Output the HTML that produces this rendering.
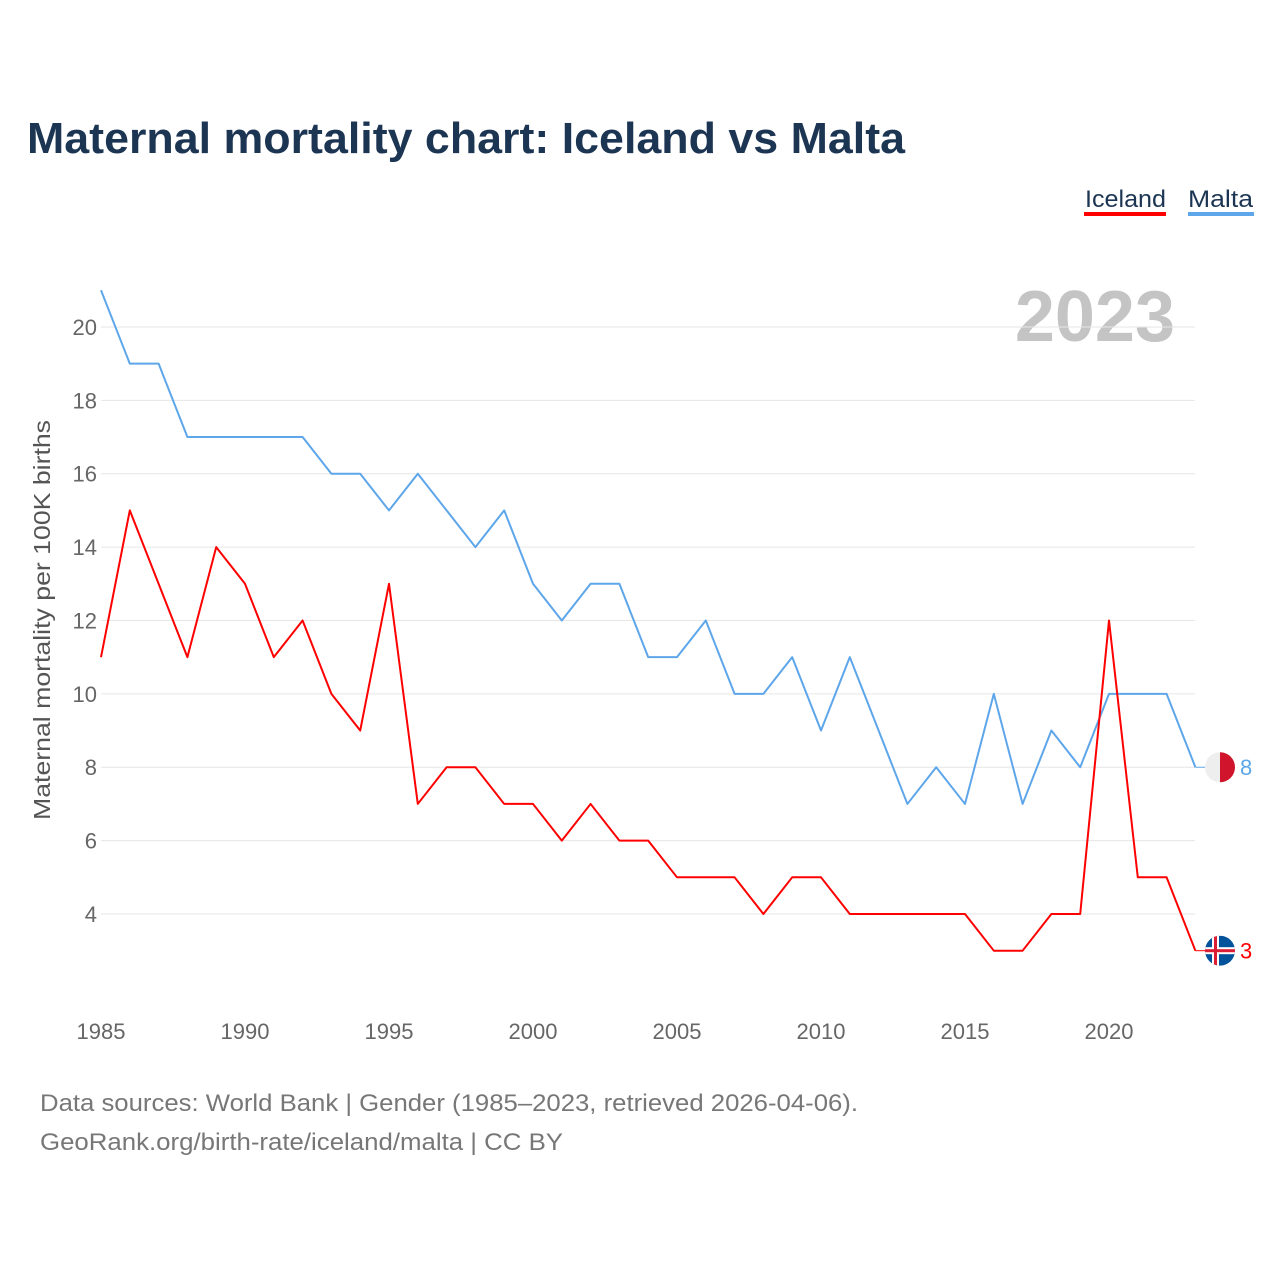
<!DOCTYPE html>
<html><head><meta charset="utf-8"><style>
body{margin:0;background:#fff;font-family:"Liberation Sans",sans-serif;}
svg{display:block}
</style></head><body>
<svg width="1280" height="1280" viewBox="0 0 1280 1280">
<text x="27" y="153" font-size="44" font-weight="bold" fill="#1c3553" textLength="878" lengthAdjust="spacingAndGlyphs">Maternal mortality chart: Iceland vs Malta</text>
<g><text x="1085" y="207" font-size="24" fill="#1c3553" textLength="81" lengthAdjust="spacingAndGlyphs">Iceland</text><rect x="1084" y="212" width="82" height="4" fill="#ff0000"/></g>
<g><text x="1188" y="207" font-size="24" fill="#1c3553" textLength="65" lengthAdjust="spacingAndGlyphs">Malta</text><rect x="1188" y="212" width="66" height="4" fill="#5ea6ea"/></g>
<text x="1175" y="341" font-size="72" font-weight="bold" fill="#c4c4c4" text-anchor="end">2023</text>
<text transform="translate(50,620) rotate(-90)" font-size="23" fill="#555" text-anchor="middle" textLength="400" lengthAdjust="spacingAndGlyphs">Maternal mortality per 100K births</text>
<g id="grid"></g><g id="yt"></g><g id="xt"></g><g id="lines"></g>
<text x="40" y="1111" font-size="24" fill="#777" textLength="818" lengthAdjust="spacingAndGlyphs">Data sources: World Bank | Gender (1985–2023, retrieved 2026-04-06).</text>
<text x="40" y="1150" font-size="24" fill="#777" textLength="523" lengthAdjust="spacingAndGlyphs">GeoRank.org/birth-rate/iceland/malta | CC BY</text>
</svg>
<script>
const years=[];for(let y=1985;y<=2023;y++)years.push(y);
const iceland=[11,15,13,11,14,13,11,12,10,9,13,7,8,8,7,7,6,7,6,6,5,5,5,4,5,5,4,4,4,4,4,3,3,4,4,12,5,5,3];
const malta=[21,19,19,17,17,17,17,17,16,16,15,16,15,14,15,13,12,13,13,11,11,12,10,10,11,9,11,9,7,8,7,10,7,9,8,10,10,10,8];
const yTicks=[4,6,8,10,12,14,16,18,20];
const xTicks=[1985,1990,1995,2000,2005,2010,2015,2020];
const X=y=>101+(y-1985)*28.8, Y=v=>914-(v-4)*36.69;
const NS="http://www.w3.org/2000/svg";
function mk(t,a,p){const e=document.createElementNS(NS,t);for(const k in a)e.setAttribute(k,a[k]);document.getElementById(p).appendChild(e);return e;}
yTicks.forEach(v=>{
 const l=mk('line',{x1:101,x2:1195,y1:Y(v),y2:Y(v),stroke:'#e6e6e6','stroke-width':1},'grid');
 
 
 const t=mk('text',{x:97,y:Y(v)+8,'font-size':22,fill:'#666','text-anchor':'end'},'yt');t.textContent=v;
 
 
});
xTicks.forEach(v=>{
 const t=mk('text',{x:X(v),y:1039,'font-size':22,fill:'#666','text-anchor':'middle'},'xt');t.textContent=v;
 
 
});
function series(d,c,name){
 const p=mk('polyline',{points:d.map((v,i)=>X(years[i])+','+Y(v)).join(' '),fill:'none',stroke:c,'stroke-width':2,'stroke-linejoin':'round'},'lines');
 
 
 const last=d[d.length-1],ly=Y(last);
 mk('line',{x1:X(2023),x2:1206,y1:ly,y2:ly,stroke:c,'stroke-width':1},'lines');
 const g=mk('g',{},'lines');
 
 
 if(name==='malta'){
  g.innerHTML=`<circle cx="1220" cy="${ly}" r="15" fill="#eee"/><path d="M1220 ${ly-15} A15 15 0 0 1 1220 ${ly+15} Z" fill="#cf142b"/>`;
 }else{
  g.innerHTML=`<clipPath id="cc"><circle cx="1220" cy="${ly}" r="15"/></clipPath><g clip-path="url(#cc)"><rect x="1205" y="${ly-15}" width="30" height="30" fill="#02529c"/><rect x="1205" y="${ly-3.5}" width="30" height="7" fill="#fff"/><rect x="1212" y="${ly-15}" width="7" height="30" fill="#fff"/><rect x="1205" y="${ly-1.5}" width="30" height="3" fill="#dc1e35"/><rect x="1214" y="${ly-15}" width="3" height="30" fill="#dc1e35"/></g>`;
 }
 const t=mk('text',{x:1240,y:ly+8,'font-size':22,fill:c},'lines');t.textContent=last;
 
 
}
series(malta,'#5ea6ea','malta');
series(iceland,'#ff0000','iceland');
</script>
</body></html>
